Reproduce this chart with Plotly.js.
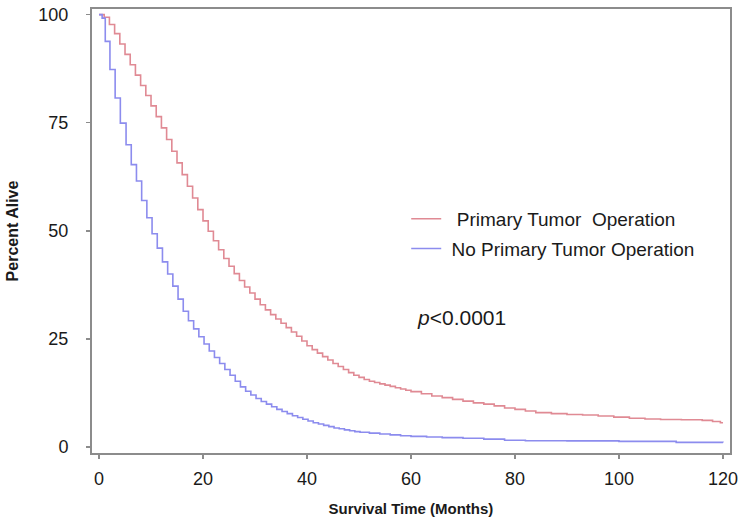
<!DOCTYPE html>
<html>
<head>
<meta charset="utf-8">
<script src="https://cdn.plot.ly/plotly-3.0.1.min.js"></script>
<style>
  html, body { margin: 0; padding: 0; background: #ffffff; }
  #chart { width: 750px; height: 527px; }
</style>
</head>
<body>
<div id="chart"></div>
<script>
// Primary Tumor Operation (months, percent alive)
const opTime = [0,1,2,3,4,5,6,7,8,9,10,11,12,13,14,15,16,17,18,19,20,21,22,23,24,25,26,27,28,29,30,31,32,33,34,35,36,37,38,39,40,41,42,43,44,45,46,47,48,49,50,51,52,53,54,55,56,57,58,59,60,62,64,66,68,70,72,74,76,78,80,82,84,87,90,93,96,99,102,105,108,112,116,118,119.5,120];
const opSurv = [100,99.4,97.7,95.6,93.2,90.8,88.4,86,83.6,81.3,78.9,76.4,73.8,71.1,68.4,65.7,63,60.3,57.6,54.9,52.3,49.9,47.7,45.6,43.6,41.8,40.1,38.5,37,35.6,34.2,32.9,31.7,30.6,29.6,28.6,27.6,26.6,25.6,24.5,23.4,22.5,21.7,20.9,20.1,19.3,18.6,17.9,17.2,16.6,16.1,15.6,15.2,14.9,14.6,14.3,14,13.7,13.4,13.1,12.8,12.3,11.8,11.4,11,10.6,10.2,9.9,9.5,9.0,8.7,8.3,7.95,7.7,7.5,7.4,7.15,6.9,6.65,6.45,6.35,6.3,6.15,5.9,5.6,5.6];

// No Primary Tumor Operation
const noOpTime = [0,0.6,1.2,2.1,3.1,4.1,5.2,6.2,7.2,8.2,9.2,10.2,11.2,12.2,13.2,14.2,15.2,16.2,17.2,18.2,19.2,20.2,21.2,22.2,23.2,24.2,25.2,26.2,27.2,28.2,29.2,30.2,31.2,32.2,33.2,34.2,35.2,36.2,37.2,38.2,39.2,40.2,41.2,42.2,43.2,44.2,45.2,46.2,47.2,48.2,49.2,50.2,52,54,56,58,60,63,66,70,74,78,82,90,100,111,120];
const noOpSurv = [100,99.2,93.8,87.3,80.7,74.9,69.9,65.3,61.5,57,53,49.3,46,42.8,40,37.2,34.2,31.4,29.2,27.3,25.5,23.8,22.2,20.7,19.3,17.9,16.6,15.2,13.9,12.9,12,11.2,10.5,9.9,9.3,8.7,8.2,7.7,7.2,6.8,6.4,6.0,5.6,5.3,5.0,4.7,4.4,4.2,3.95,3.75,3.55,3.4,3.2,3.0,2.8,2.6,2.45,2.3,2.15,2.0,1.8,1.55,1.45,1.4,1.3,1.05,1.0];

const seriesNames = ["\u00a0\u00a0Primary Tumor\u00a0 Operation", "\u00a0No Primary Tumor Operation"];
const xTicks = [0,20,40,60,80,100,120];
const yTicks = [0,25,50,75,100];
const pText = "<i>p</i>&lt;0.0001";

const font = "Liberation Sans, Arial, sans-serif";
const axisColor = "#8c8c8c";

const traces = [
  { x: opTime, y: opSurv, type: "scatter", mode: "lines", name: seriesNames[0],
    line: { shape: "hv", color: "rgb(224,138,148)", width: 1.6 }, legendgroup: "a" },
  { x: noOpTime, y: noOpSurv, type: "scatter", mode: "lines", name: seriesNames[1],
    line: { shape: "hv", color: "rgb(140,140,238)", width: 1.6 }, legendgroup: "b" }
];

const layout = {
  width: 750, height: 527,
  margin: { l: 92, r: 20, t: 9, b: 74 },
  paper_bgcolor: "#ffffff", plot_bgcolor: "#ffffff",
  font: { family: font, color: "#1a1a1a" },
  showlegend: true,
  legend: {
    x: 0.4925, y: 0.57, xanchor: "left", yanchor: "top",
    bgcolor: "rgba(0,0,0,0)", font: { family: font, size: 19, color: "#1a1a1a" },
    traceorder: "grouped", tracegroupgap: 2
  },
  xaxis: {
    range: [-1.35, 121.35], tickvals: xTicks, ticktext: xTicks.map(String),
    ticks: "outside", ticklen: 4, tickcolor: axisColor, tickwidth: 1.5,
    showline: true, linecolor: axisColor, linewidth: 2, mirror: true,
    showgrid: false, zeroline: false,
    tickfont: { family: font, size: 18, color: "#1a1a1a" },
    ticklabelstandoff: 4,
    title: { text: "Survival Time (Months)", font: { family: font, size: 15, color: "#1a1a1a", weight: "bold" }, standoff: 16 }
  },
  yaxis: {
    range: [-1.4, 101.3], tickvals: yTicks, ticktext: yTicks.map(String),
    ticks: "outside", ticklen: 4, tickcolor: axisColor, tickwidth: 1.5,
    showline: true, linecolor: axisColor, linewidth: 2, mirror: true,
    showgrid: false, zeroline: false,
    tickfont: { family: font, size: 18, color: "#1a1a1a" },
    ticklabelstandoff: 14,
    title: { text: "Percent Alive", font: { family: font, size: 16, color: "#1a1a1a", weight: "bold" }, standoff: 16 }
  },
  annotations: [
    { x: 60.8, y: 29.9, xref: "x", yref: "y", text: pText, showarrow: false,
      xanchor: "left", yanchor: "middle", font: { family: font, size: 21, color: "#1a1a1a" } }
  ]
};

Plotly.newPlot("chart", traces, layout, { displayModeBar: false, staticPlot: true });
</script>
</body>
</html>
